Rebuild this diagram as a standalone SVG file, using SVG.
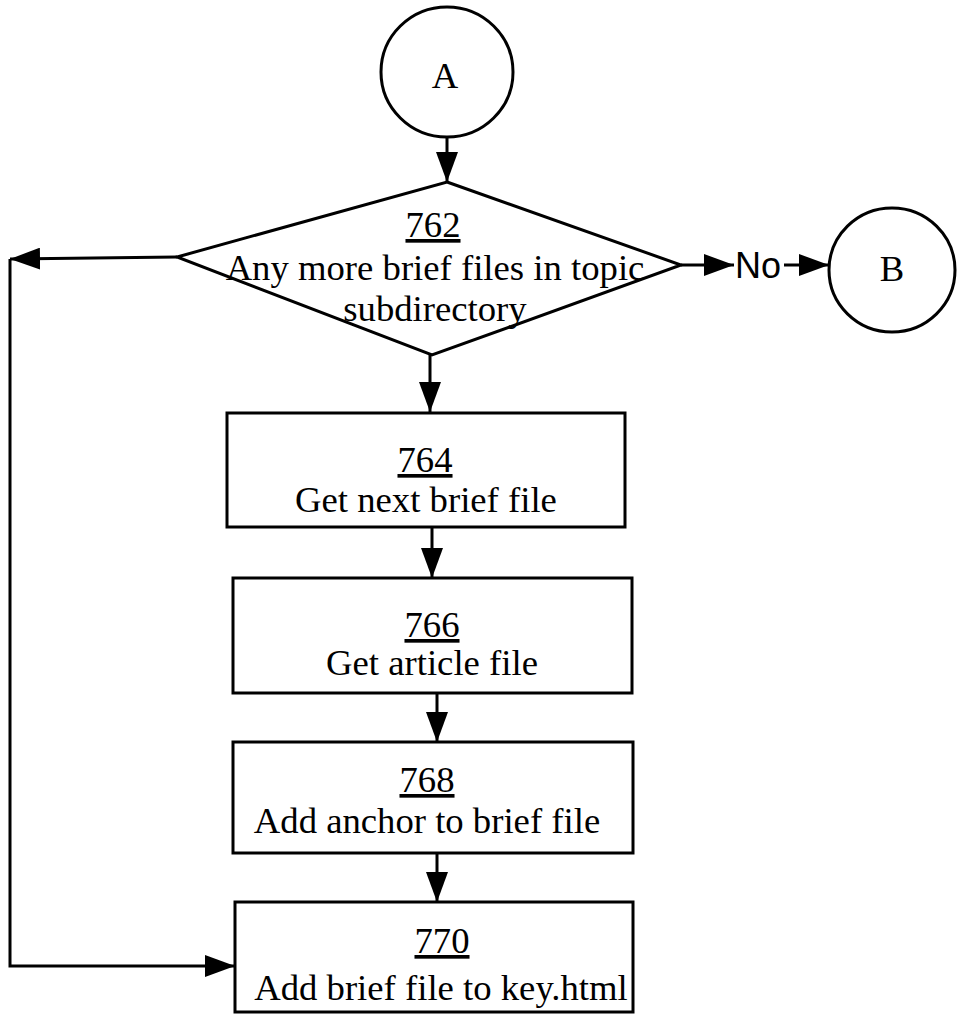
<svg xmlns="http://www.w3.org/2000/svg" width="958" height="1015" viewBox="0 0 958 1015">
<style>
.shape{fill:#fff;stroke:#000;stroke-width:3}
.conn{fill:none;stroke:#000;stroke-width:3}
.t{font-family:"Liberation Serif","Times New Roman",serif;font-size:36.7px;fill:#000;text-anchor:middle}
.num{text-decoration:underline}
.s{font-family:"Liberation Sans",Arial,sans-serif;font-size:36px;fill:#000;text-anchor:middle}
</style>
<defs>
<marker id="arr" markerUnits="userSpaceOnUse" markerWidth="30" markerHeight="22" refX="30" refY="11" orient="auto" viewBox="0 0 30 22">
<path d="M0,0 L30,11 L0,22 z" fill="#000"/>
</marker>
</defs>
<rect width="958" height="1015" fill="#fff"/>
<g id="connectors">
<line class="conn" x1="447" y1="137" x2="447" y2="182" marker-end="url(#arr)"/>
<line class="conn" x1="177" y1="257" x2="10" y2="259" marker-end="url(#arr)"/>
<polyline class="conn" points="10,259 10,966 235,966" marker-end="url(#arr)"/>
<line class="conn" x1="681" y1="265" x2="734" y2="265" marker-end="url(#arr)"/>
<line class="conn" x1="784" y1="265" x2="829" y2="265" marker-end="url(#arr)"/>
<line class="conn" x1="430" y1="355" x2="430" y2="412" marker-end="url(#arr)"/>
<line class="conn" x1="432" y1="527" x2="432" y2="578" marker-end="url(#arr)"/>
<line class="conn" x1="437" y1="693" x2="437" y2="742" marker-end="url(#arr)"/>
<line class="conn" x1="437" y1="853" x2="437" y2="902" marker-end="url(#arr)"/>
<text class="s" x="758" y="278">No</text>
</g>
<g id="nodeA">
<ellipse class="shape" cx="447" cy="72" rx="66" ry="65"/>
<text class="t" x="445" y="88">A</text>
</g>
<g id="node762">
<polygon class="shape" points="447,182 681,265 432,355 177,257"/>
<text class="t" x="433" y="237"><tspan class="num">762</tspan></text>
<text class="t" x="435" y="280">Any more brief files in topic</text>
<text class="t" x="435" y="321">subdirectory</text>
</g>
<g id="nodeB">
<ellipse class="shape" cx="892" cy="270" rx="63" ry="62"/>
<text class="t" x="892" y="281">B</text>
</g>
<g id="node764">
<rect class="shape" x="227" y="413" width="398" height="114"/>
<text class="t" x="425" y="472"><tspan class="num">764</tspan></text>
<text class="t" x="426" y="512">Get next brief file</text>
</g>
<g id="node766">
<rect class="shape" x="233" y="578" width="399" height="115"/>
<text class="t" x="432" y="637"><tspan class="num">766</tspan></text>
<text class="t" x="432" y="675">Get article file</text>
</g>
<g id="node768">
<rect class="shape" x="233" y="742" width="400" height="111"/>
<text class="t" x="427" y="792"><tspan class="num">768</tspan></text>
<text class="t" x="427" y="833">Add anchor to brief file</text>
</g>
<g id="node770">
<rect class="shape" x="235" y="902" width="398" height="110"/>
<text class="t" x="442" y="953"><tspan class="num">770</tspan></text>
<text class="t" x="441" y="1000">Add brief file to key.html</text>
</g>
</svg>
